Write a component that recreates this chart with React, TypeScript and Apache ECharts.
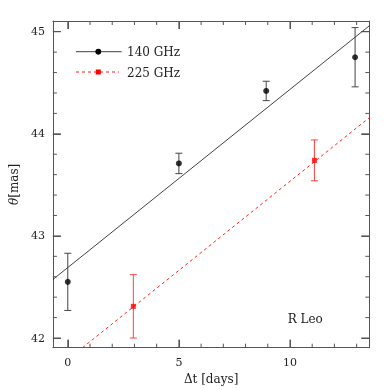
import React, { useEffect, useRef } from "react";
import * as echarts from "echarts";

const xMajorTicks = [0, 5, 10];
const xMinorTicks = [1, 2, 3, 4, 6, 7, 8, 9, 11, 12, 13];
const yMajorTicks = [42, 43, 44, 45];
const yMinorTicks = [42.2, 42.4, 42.6, 42.8, 43.2, 43.4, 43.6, 43.8, 44.2, 44.4, 44.6, 44.8];

const t140 = [0, 5, 8.93, 12.93];
const theta140 = [42.55, 43.71, 44.42, 44.75];
const err140 = [0.28, 0.1, 0.095, 0.29];

const t225 = [2.95, 11.1];
const theta225 = [42.31, 43.74];
const err225 = [0.31, 0.2];

const fit140 = { slope: 0.1745, intercept: 42.69 };
const fit225 = { slope: 0.1745, intercept: 41.79 };

const X_MIN = -0.67;
const X_MAX = 13.57;
const Y_MIN = 41.905;
const Y_MAX = 45.105;

const FONT = "'DejaVu Serif', 'Liberation Serif', serif";
const AXIS_COLOR = "#555";
const MAJOR_LEN = 8;
const MINOR_LEN = 4;

// fit line segment limited to the plotting box
function fitLine(f: { slope: number; intercept: number }) {
  const x0 = Math.max(X_MIN, (Y_MIN - f.intercept) / f.slope);
  const x1 = Math.min(X_MAX, (Y_MAX - f.intercept) / f.slope);
  return [x0, x1].map((x) => [x, f.intercept + f.slope * x]);
}

function errorBarSeries(ts: number[], vals: number[], errs: number[], color: string) {
  return {
    type: "custom",
    clip: false,
    data: ts.map((t, i) => [t, vals[i] - errs[i], vals[i] + errs[i]]),
    renderItem: (params: any, api: any) => {
      const lo = api.coord([api.value(0), api.value(1)]);
      const hi = api.coord([api.value(0), api.value(2)]);
      const w = 3.5;
      return {
        type: "group",
        children: [
          { type: "line", shape: { x1: lo[0], y1: lo[1], x2: hi[0], y2: hi[1] }, style: { stroke: color, lineWidth: 1 } },
          { type: "line", shape: { x1: lo[0] - w, y1: lo[1], x2: lo[0] + w, y2: lo[1] }, style: { stroke: color, lineWidth: 1 } },
          { type: "line", shape: { x1: hi[0] - w, y1: hi[1], x2: hi[0] + w, y2: hi[1] }, style: { stroke: color, lineWidth: 1 } },
        ],
      };
    },
    z: 3,
  };
}

// tick marks: [x, y, length, kind] kind 0 = x-axis tick, 1 = y-axis tick
const tickData = [
  ...xMinorTicks.map((v) => [v, Y_MIN, MINOR_LEN, 0]),
  ...xMajorTicks.map((v) => [v, Y_MIN, MAJOR_LEN, 0]),
  ...yMinorTicks.map((v) => [X_MIN, v, MINOR_LEN, 1]),
  ...yMajorTicks.map((v) => [X_MIN, v, MAJOR_LEN, 1]),
];

const tickSeries = {
  type: "custom",
  clip: false,
  data: tickData,
  renderItem: (params: any, api: any) => {
    const p = api.coord([api.value(0), api.value(1)]);
    const len = api.value(2);
    const kind = api.value(3);
    const cs = params.coordSys;
    if (kind === 0) {
      const top = cs.y;
      const bottom = cs.y + cs.height;
      return {
        type: "group",
        children: [
          { type: "line", shape: { x1: p[0], y1: bottom, x2: p[0], y2: bottom - len }, style: { stroke: AXIS_COLOR, lineWidth: 1 } },
          { type: "line", shape: { x1: p[0], y1: top, x2: p[0], y2: top + len }, style: { stroke: AXIS_COLOR, lineWidth: 1 } },
        ],
      };
    }
    const left = cs.x;
    const right = cs.x + cs.width;
    return {
      type: "group",
      children: [
        { type: "line", shape: { x1: left, y1: p[1], x2: left + len, y2: p[1] }, style: { stroke: AXIS_COLOR, lineWidth: 1 } },
        { type: "line", shape: { x1: right, y1: p[1], x2: right - len, y2: p[1] }, style: { stroke: AXIS_COLOR, lineWidth: 1 } },
      ],
    };
  },
  z: 5,
};

export default function App() {
  const ref = useRef<HTMLDivElement>(null);
  useEffect(() => {
    if (!ref.current) return;
    const chart = echarts.init(ref.current, undefined, { renderer: "svg" });

    const option: any = {
      animation: false,
      grid: { left: 42.5, right: 20.7, top: 21, bottom: 42.3 },
      xAxis: [
        {
          type: "value",
          min: X_MIN,
          max: X_MAX,
          position: "bottom",
          splitLine: { show: false },
          axisLine: { show: true, onZero: false, lineStyle: { color: AXIS_COLOR, width: 1 } },
          axisTick: { show: true, inside: true, length: MAJOR_LEN, customValues: xMajorTicks, lineStyle: { color: AXIS_COLOR } },
          axisLabel: { show: true, customValues: xMajorTicks, margin: 9, fontFamily: FONT, fontSize: 11, color: "#222" },
          name: "Δt [days]",
          nameLocation: "middle",
          nameGap: 23,
          nameTextStyle: { fontFamily: FONT, fontSize: 12, color: "#222" },
        },
        {
          type: "value",
          min: X_MIN,
          max: X_MAX,
          position: "top",
          splitLine: { show: false },
          axisLine: { show: true, onZero: false, lineStyle: { color: AXIS_COLOR, width: 1 } },
          axisTick: { show: true, inside: true, length: MAJOR_LEN, customValues: xMajorTicks, lineStyle: { color: AXIS_COLOR } },
          axisLabel: { show: false },
        },
      ],
      yAxis: [
        {
          type: "value",
          min: Y_MIN,
          max: Y_MAX,
          position: "left",
          splitLine: { show: false },
          axisLine: { show: true, onZero: false, lineStyle: { color: AXIS_COLOR, width: 1 } },
          axisTick: { show: true, inside: true, length: MAJOR_LEN, customValues: yMajorTicks, lineStyle: { color: AXIS_COLOR } },
          axisLabel: { show: true, customValues: yMajorTicks, margin: 8, fontFamily: FONT, fontSize: 11, color: "#222" },
          name: "{i|θ}[mas]",
          nameLocation: "middle",
          nameRotate: 90,
          nameGap: 24,
          nameTextStyle: {
            fontFamily: FONT,
            fontSize: 12,
            color: "#222",
            rich: { i: { fontFamily: FONT, fontStyle: "italic", fontSize: 12, color: "#222" } },
          },
        },
        {
          type: "value",
          min: Y_MIN,
          max: Y_MAX,
          position: "right",
          splitLine: { show: false },
          axisLine: { show: true, onZero: false, lineStyle: { color: AXIS_COLOR, width: 1 } },
          axisTick: { show: true, inside: true, length: MAJOR_LEN, customValues: yMajorTicks, lineStyle: { color: AXIS_COLOR } },
          axisLabel: { show: false },
        },
      ],
      series: [
        {
          type: "line",
          data: fitLine(fit140),
          showSymbol: false,
          symbol: "none",
          clip: false,
          lineStyle: { color: "#111", width: 0.8 },
          z: 2,
        },
        {
          type: "line",
          data: fitLine(fit225),
          showSymbol: false,
          symbol: "none",
          clip: false,
          lineStyle: { color: "#ff2020", width: 1, type: [3, 3] },
          z: 2,
        },
        errorBarSeries(t140, theta140, err140, "#444"),
        errorBarSeries(t225, theta225, err225, "#ff4040"),
        {
          type: "scatter",
          name: "140 GHz",
          clip: false,
          data: t140.map((t, i) => [t, theta140[i]]),
          symbol: "circle",
          symbolSize: 6,
          itemStyle: { color: "#000" },
          z: 4,
        },
        {
          type: "scatter",
          name: "225 GHz",
          clip: false,
          data: t225.map((t, i) => [t, theta225[i]]),
          symbol: "rect",
          symbolSize: 5,
          itemStyle: { color: "#ff0000" },
          z: 4,
        },
        tickSeries,
      ],
    };

    chart.setOption(option);
    chart.setOption({
      graphic: [
        { type: "line", shape: { x1: 76, y1: 51.7, x2: 121.7, y2: 51.7 }, style: { stroke: "#111", lineWidth: 0.8 } },
        { type: "circle", shape: { cx: 98.3, cy: 51.7, r: 3 }, style: { fill: "#000" } },
        { type: "text", x: 127, y: 52, style: { text: "140 GHz", font: "12px 'DejaVu Serif'", fill: "#222", verticalAlign: "middle" } },
        { type: "line", shape: { x1: 76, y1: 72, x2: 119, y2: 72 }, style: { stroke: "#ff2020", lineWidth: 1, lineDash: [3, 3] } },
        { type: "rect", shape: { x: 95.8, y: 69.5, width: 5, height: 5 }, style: { fill: "#ff0000" } },
        { type: "text", x: 127, y: 72.5, style: { text: "225 GHz", font: "12px 'DejaVu Serif'", fill: "#222", verticalAlign: "middle" } },
        { type: "text", x: 287.7, y: 318.5, style: { text: "R Leo", font: "12px 'DejaVu Serif'", fill: "#222", verticalAlign: "middle" } },
      ],
    });
    return () => chart.dispose();
  }, []);

  return <div ref={ref} style={{ position: "fixed", left: 0, top: 0, width: 390, height: 390 }} />;
}
